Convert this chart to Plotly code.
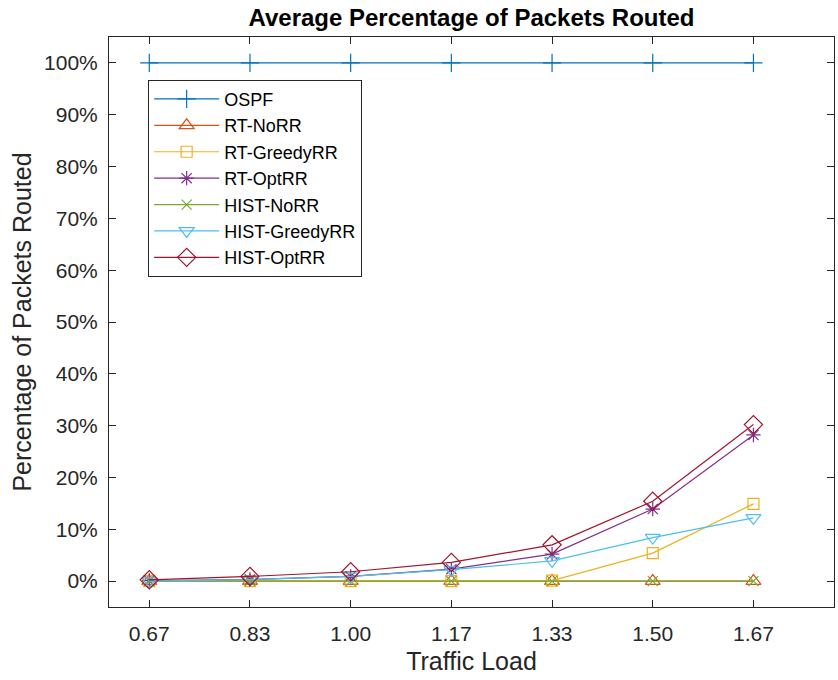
import plotly.graph_objects as go

x_vals = [2/3, 5/6, 1.0, 7/6, 4/3, 3/2, 5/3]
x_ticktext = ["0.67", "0.83", "1.00", "1.17", "1.33", "1.50", "1.67"]

ospf = [100, 100, 100, 100, 100, 100, 100]
rt_norr = [0, 0, 0, 0, 0, 0, 0]
rt_greedy = [0, 0, 0, 0, 0.1, 5.4, 14.9]
rt_opt = [0.1, 0.3, 0.9, 2.3, 5.2, 13.9, 28.2]
hist_norr = [0, 0, 0, 0, 0, 0, 0]
hist_greedy = [0, 0.3, 0.9, 2.2, 3.9, 8.4, 12.2]
hist_opt = [0.25, 0.9, 1.8, 3.6, 7.0, 15.4, 30.2]

y_tickvals = [0, 10, 20, 30, 40, 50, 60, 70, 80, 90, 100]
y_ticktext = [f"{v}%" for v in y_tickvals]

series = [
    ("OSPF", ospf, "#0072BD", "cross-thin-open", 13),
    ("RT-NoRR", rt_norr, "#D95319", "triangle-up-open", 13),
    ("RT-GreedyRR", rt_greedy, "#EDB120", "square-open", 11),
    ("RT-OptRR", rt_opt, "#7E2F8E", "asterisk-open", 12),
    ("HIST-NoRR", hist_norr, "#77AC30", "x-thin-open", 10),
    ("HIST-GreedyRR", hist_greedy, "#4DBEEE", "triangle-down-open", 13),
    ("HIST-OptRR", hist_opt, "#A2142F", "diamond-open", 14),
]

fig = go.Figure()
for name, vals, color, sym, size in series:
    fig.add_trace(go.Scatter(
        x=x_vals, y=vals, name=name, mode="lines+markers",
        line=dict(color=color, width=1.2),
        marker=dict(symbol=sym, size=size, color=color, line=dict(color=color, width=1.2)),
    ))

FONT = "Liberation Sans, Arial"
axis_common = dict(
    showline=True, linecolor="#262626", linewidth=1, mirror="ticks",
    ticks="inside", ticklen=7, tickcolor="#262626", tickwidth=1,
    showgrid=False, zeroline=False,
    tickfont=dict(family=FONT, size=21, color="#262626"),
)

fig.update_layout(
    width=838, height=680,
    margin=dict(l=109, r=4, t=37, b=73),
    paper_bgcolor="white", plot_bgcolor="white",
    title=dict(text="<b>Average Percentage of Packets Routed</b>", x=0.5, xanchor="center",
               xref="paper", y=1 - 18 / 680, yanchor="middle",
               font=dict(family=FONT, size=24, color="black")),
    xaxis=dict(range=[0.6, 1.8], tickvals=x_vals, ticktext=x_ticktext,
               ticklabelstandoff=8,
               title=dict(text="Traffic Load", standoff=8,
                          font=dict(family=FONT, size=25, color="#262626")),
               **axis_common),
    yaxis=dict(range=[-5, 105], tickvals=y_tickvals, ticktext=y_ticktext,
               ticklabelstandoff=6,
               title=dict(text="Percentage of Packets Routed", standoff=5,
                          font=dict(family=FONT, size=25, color="#262626")),
               **axis_common),
    legend=dict(x=0.054, y=0.925, xanchor="left", yanchor="top",
                bgcolor="white", bordercolor="#262626", borderwidth=1,
                font=dict(family=FONT, size=18, color="black"),
                itemwidth=65, tracegroupgap=0),
    showlegend=True,
)

fig.write_html("out.html")
